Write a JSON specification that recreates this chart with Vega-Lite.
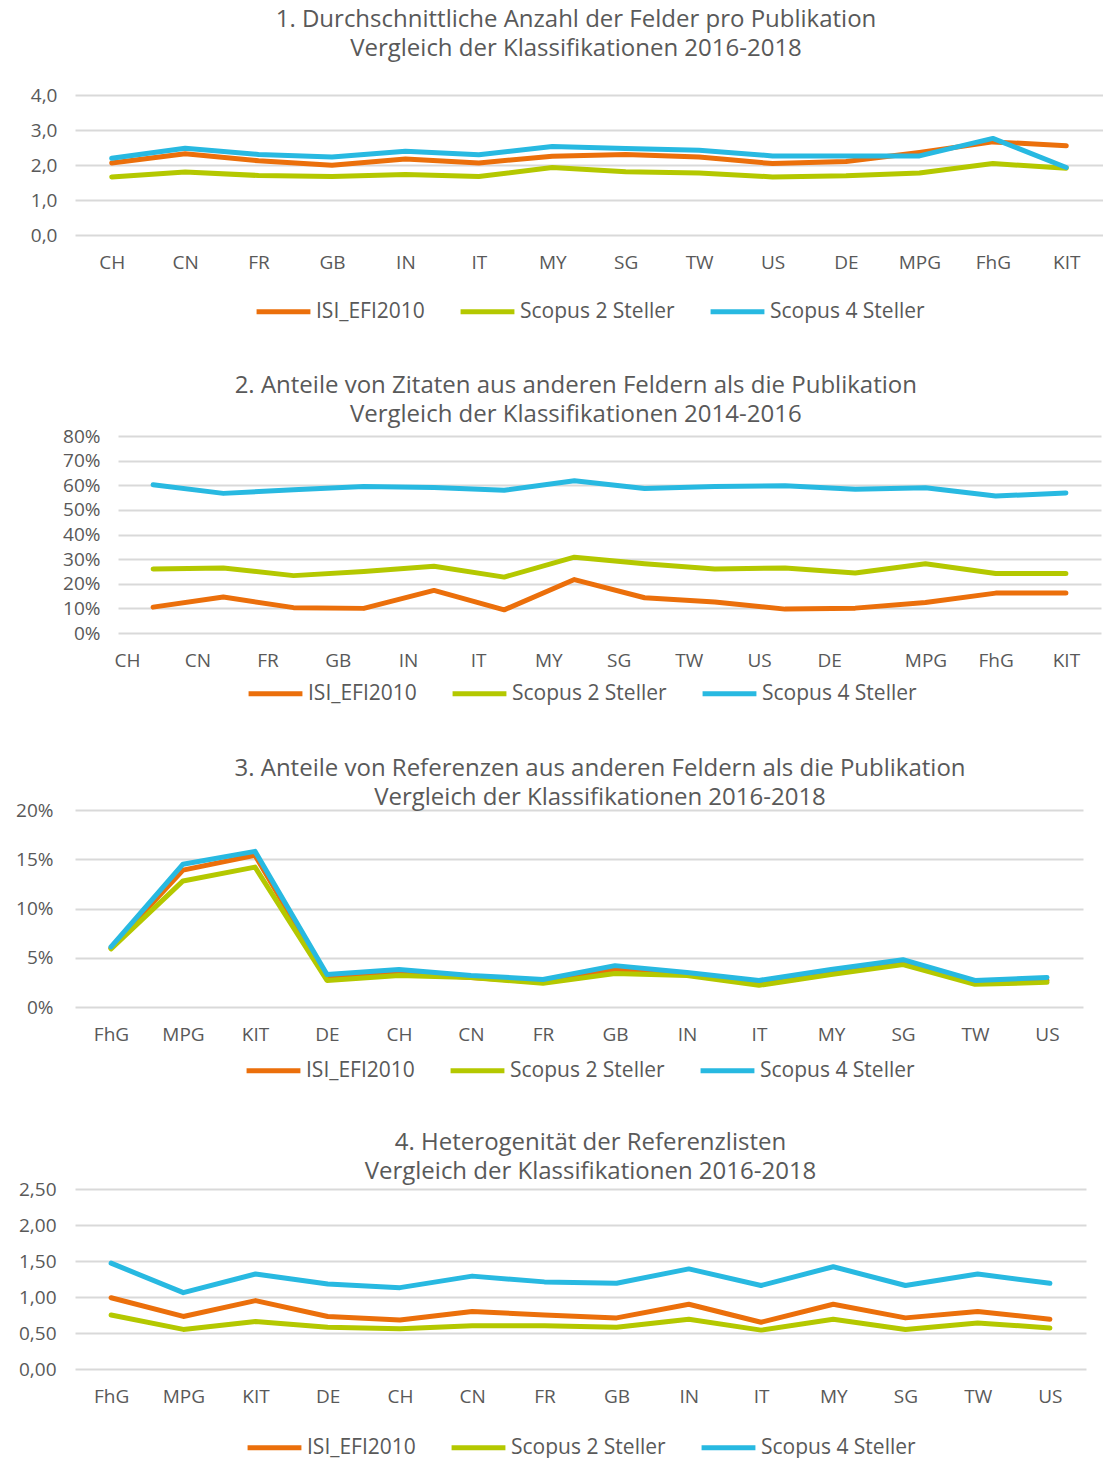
{
  "$schema": "https://vega.github.io/schema/vega-lite/v6.json",
  "padding": {"left": 0, "top": 8, "right": 0, "bottom": 0},
  "background": "white",
  "columns": 1,
  "spacing": 50,
  "config": {
    "font": "Open Sans",
    "view": {"stroke": null},
    "title": {"fontSize": 24, "fontWeight": "normal", "color": "#595959", "anchor": "middle", "lineHeight": 29, "font": "Open Sans"},
    "axis": {"labelColor": "#595959", "labelFontSize": 19, "labelFont": "Open Sans", "domain": false, "ticks": false, "title": null},
    "axisY": {"gridColor": "#D9D9D9", "gridWidth": 2, "minExtent": 75},
    "axisX": {"grid": false, "labelAngle": 0, "labelPadding": 18},
    "legend": {"orient": "bottom", "direction": "horizontal", "title": null, "labelFontSize": 21, "labelColor": "#595959", "labelFont": "Open Sans", "symbolType": "stroke", "symbolSize": 2900, "symbolStrokeWidth": 5, "columnPadding": 25, "labelOffset": 3, "layout": {"bottom": {"anchor": "middle"}}}
  },
  "datasets": {
    "p1": [
      {"land": "CH", "serie": "ISI_EFI2010", "wert": 2.06}, {"land": "CN", "serie": "ISI_EFI2010", "wert": 2.32}, {"land": "FR", "serie": "ISI_EFI2010", "wert": 2.12}, {"land": "GB", "serie": "ISI_EFI2010", "wert": 1.99}, {"land": "IN", "serie": "ISI_EFI2010", "wert": 2.17}, {"land": "IT", "serie": "ISI_EFI2010", "wert": 2.06}, {"land": "MY", "serie": "ISI_EFI2010", "wert": 2.25}, {"land": "SG", "serie": "ISI_EFI2010", "wert": 2.3}, {"land": "TW", "serie": "ISI_EFI2010", "wert": 2.23}, {"land": "US", "serie": "ISI_EFI2010", "wert": 2.04}, {"land": "DE", "serie": "ISI_EFI2010", "wert": 2.1}, {"land": "MPG", "serie": "ISI_EFI2010", "wert": 2.36}, {"land": "FhG", "serie": "ISI_EFI2010", "wert": 2.66}, {"land": "KIT", "serie": "ISI_EFI2010", "wert": 2.55},
      {"land": "CH", "serie": "Scopus 2 Steller", "wert": 1.66}, {"land": "CN", "serie": "Scopus 2 Steller", "wert": 1.8}, {"land": "FR", "serie": "Scopus 2 Steller", "wert": 1.7}, {"land": "GB", "serie": "Scopus 2 Steller", "wert": 1.67}, {"land": "IN", "serie": "Scopus 2 Steller", "wert": 1.73}, {"land": "IT", "serie": "Scopus 2 Steller", "wert": 1.67}, {"land": "MY", "serie": "Scopus 2 Steller", "wert": 1.93}, {"land": "SG", "serie": "Scopus 2 Steller", "wert": 1.81}, {"land": "TW", "serie": "Scopus 2 Steller", "wert": 1.77}, {"land": "US", "serie": "Scopus 2 Steller", "wert": 1.66}, {"land": "DE", "serie": "Scopus 2 Steller", "wert": 1.69}, {"land": "MPG", "serie": "Scopus 2 Steller", "wert": 1.77}, {"land": "FhG", "serie": "Scopus 2 Steller", "wert": 2.04}, {"land": "KIT", "serie": "Scopus 2 Steller", "wert": 1.91},
      {"land": "CH", "serie": "Scopus 4 Steller", "wert": 2.19}, {"land": "CN", "serie": "Scopus 4 Steller", "wert": 2.48}, {"land": "FR", "serie": "Scopus 4 Steller", "wert": 2.3}, {"land": "GB", "serie": "Scopus 4 Steller", "wert": 2.23}, {"land": "IN", "serie": "Scopus 4 Steller", "wert": 2.39}, {"land": "IT", "serie": "Scopus 4 Steller", "wert": 2.29}, {"land": "MY", "serie": "Scopus 4 Steller", "wert": 2.53}, {"land": "SG", "serie": "Scopus 4 Steller", "wert": 2.47}, {"land": "TW", "serie": "Scopus 4 Steller", "wert": 2.42}, {"land": "US", "serie": "Scopus 4 Steller", "wert": 2.26}, {"land": "DE", "serie": "Scopus 4 Steller", "wert": 2.26}, {"land": "MPG", "serie": "Scopus 4 Steller", "wert": 2.26}, {"land": "FhG", "serie": "Scopus 4 Steller", "wert": 2.76}, {"land": "KIT", "serie": "Scopus 4 Steller", "wert": 1.93}
    ],
    "p2": [
      {"land": "CH", "serie": "ISI_EFI2010", "wert": 0.105}, {"land": "CN", "serie": "ISI_EFI2010", "wert": 0.146}, {"land": "FR", "serie": "ISI_EFI2010", "wert": 0.103}, {"land": "GB", "serie": "ISI_EFI2010", "wert": 0.1}, {"land": "IN", "serie": "ISI_EFI2010", "wert": 0.173}, {"land": "IT", "serie": "ISI_EFI2010", "wert": 0.094}, {"land": "MY", "serie": "ISI_EFI2010", "wert": 0.217}, {"land": "SG", "serie": "ISI_EFI2010", "wert": 0.143}, {"land": "TW", "serie": "ISI_EFI2010", "wert": 0.126}, {"land": "US", "serie": "ISI_EFI2010", "wert": 0.097}, {"land": "DE", "serie": "ISI_EFI2010", "wert": 0.101}, {"land": "MPG", "serie": "ISI_EFI2010", "wert": 0.124}, {"land": "FhG", "serie": "ISI_EFI2010", "wert": 0.162}, {"land": "KIT", "serie": "ISI_EFI2010", "wert": 0.162},
      {"land": "CH", "serie": "Scopus 2 Steller", "wert": 0.26}, {"land": "CN", "serie": "Scopus 2 Steller", "wert": 0.264}, {"land": "FR", "serie": "Scopus 2 Steller", "wert": 0.233}, {"land": "GB", "serie": "Scopus 2 Steller", "wert": 0.25}, {"land": "IN", "serie": "Scopus 2 Steller", "wert": 0.271}, {"land": "IT", "serie": "Scopus 2 Steller", "wert": 0.227}, {"land": "MY", "serie": "Scopus 2 Steller", "wert": 0.308}, {"land": "SG", "serie": "Scopus 2 Steller", "wert": 0.281}, {"land": "TW", "serie": "Scopus 2 Steller", "wert": 0.26}, {"land": "US", "serie": "Scopus 2 Steller", "wert": 0.264}, {"land": "DE", "serie": "Scopus 2 Steller", "wert": 0.244}, {"land": "MPG", "serie": "Scopus 2 Steller", "wert": 0.281}, {"land": "FhG", "serie": "Scopus 2 Steller", "wert": 0.242}, {"land": "KIT", "serie": "Scopus 2 Steller", "wert": 0.242},
      {"land": "CH", "serie": "Scopus 4 Steller", "wert": 0.602}, {"land": "CN", "serie": "Scopus 4 Steller", "wert": 0.567}, {"land": "FR", "serie": "Scopus 4 Steller", "wert": 0.582}, {"land": "GB", "serie": "Scopus 4 Steller", "wert": 0.595}, {"land": "IN", "serie": "Scopus 4 Steller", "wert": 0.591}, {"land": "IT", "serie": "Scopus 4 Steller", "wert": 0.58}, {"land": "MY", "serie": "Scopus 4 Steller", "wert": 0.618}, {"land": "SG", "serie": "Scopus 4 Steller", "wert": 0.587}, {"land": "TW", "serie": "Scopus 4 Steller", "wert": 0.595}, {"land": "US", "serie": "Scopus 4 Steller", "wert": 0.598}, {"land": "DE", "serie": "Scopus 4 Steller", "wert": 0.584}, {"land": "MPG", "serie": "Scopus 4 Steller", "wert": 0.59}, {"land": "FhG", "serie": "Scopus 4 Steller", "wert": 0.556}, {"land": "KIT", "serie": "Scopus 4 Steller", "wert": 0.569}
    ],
    "p3": [
      {"land": "FhG", "serie": "ISI_EFI2010", "wert": 0.06}, {"land": "MPG", "serie": "ISI_EFI2010", "wert": 0.139}, {"land": "KIT", "serie": "ISI_EFI2010", "wert": 0.154}, {"land": "DE", "serie": "ISI_EFI2010", "wert": 0.03}, {"land": "CH", "serie": "ISI_EFI2010", "wert": 0.035}, {"land": "CN", "serie": "ISI_EFI2010", "wert": 0.03}, {"land": "FR", "serie": "ISI_EFI2010", "wert": 0.025}, {"land": "GB", "serie": "ISI_EFI2010", "wert": 0.038}, {"land": "IN", "serie": "ISI_EFI2010", "wert": 0.033}, {"land": "IT", "serie": "ISI_EFI2010", "wert": 0.024}, {"land": "MY", "serie": "ISI_EFI2010", "wert": 0.036}, {"land": "SG", "serie": "ISI_EFI2010", "wert": 0.046}, {"land": "TW", "serie": "ISI_EFI2010", "wert": 0.025}, {"land": "US", "serie": "ISI_EFI2010", "wert": 0.027},
      {"land": "FhG", "serie": "Scopus 2 Steller", "wert": 0.059}, {"land": "MPG", "serie": "Scopus 2 Steller", "wert": 0.128}, {"land": "KIT", "serie": "Scopus 2 Steller", "wert": 0.142}, {"land": "DE", "serie": "Scopus 2 Steller", "wert": 0.027}, {"land": "CH", "serie": "Scopus 2 Steller", "wert": 0.032}, {"land": "CN", "serie": "Scopus 2 Steller", "wert": 0.03}, {"land": "FR", "serie": "Scopus 2 Steller", "wert": 0.024}, {"land": "GB", "serie": "Scopus 2 Steller", "wert": 0.034}, {"land": "IN", "serie": "Scopus 2 Steller", "wert": 0.032}, {"land": "IT", "serie": "Scopus 2 Steller", "wert": 0.022}, {"land": "MY", "serie": "Scopus 2 Steller", "wert": 0.033}, {"land": "SG", "serie": "Scopus 2 Steller", "wert": 0.043}, {"land": "TW", "serie": "Scopus 2 Steller", "wert": 0.023}, {"land": "US", "serie": "Scopus 2 Steller", "wert": 0.025},
      {"land": "FhG", "serie": "Scopus 4 Steller", "wert": 0.061}, {"land": "MPG", "serie": "Scopus 4 Steller", "wert": 0.145}, {"land": "KIT", "serie": "Scopus 4 Steller", "wert": 0.158}, {"land": "DE", "serie": "Scopus 4 Steller", "wert": 0.033}, {"land": "CH", "serie": "Scopus 4 Steller", "wert": 0.038}, {"land": "CN", "serie": "Scopus 4 Steller", "wert": 0.032}, {"land": "FR", "serie": "Scopus 4 Steller", "wert": 0.028}, {"land": "GB", "serie": "Scopus 4 Steller", "wert": 0.042}, {"land": "IN", "serie": "Scopus 4 Steller", "wert": 0.035}, {"land": "IT", "serie": "Scopus 4 Steller", "wert": 0.027}, {"land": "MY", "serie": "Scopus 4 Steller", "wert": 0.038}, {"land": "SG", "serie": "Scopus 4 Steller", "wert": 0.048}, {"land": "TW", "serie": "Scopus 4 Steller", "wert": 0.027}, {"land": "US", "serie": "Scopus 4 Steller", "wert": 0.03}
    ],
    "p4": [
      {"land": "FhG", "serie": "ISI_EFI2010", "wert": 0.99}, {"land": "MPG", "serie": "ISI_EFI2010", "wert": 0.73}, {"land": "KIT", "serie": "ISI_EFI2010", "wert": 0.95}, {"land": "DE", "serie": "ISI_EFI2010", "wert": 0.73}, {"land": "CH", "serie": "ISI_EFI2010", "wert": 0.68}, {"land": "CN", "serie": "ISI_EFI2010", "wert": 0.8}, {"land": "FR", "serie": "ISI_EFI2010", "wert": 0.75}, {"land": "GB", "serie": "ISI_EFI2010", "wert": 0.71}, {"land": "IN", "serie": "ISI_EFI2010", "wert": 0.9}, {"land": "IT", "serie": "ISI_EFI2010", "wert": 0.65}, {"land": "MY", "serie": "ISI_EFI2010", "wert": 0.9}, {"land": "SG", "serie": "ISI_EFI2010", "wert": 0.71}, {"land": "TW", "serie": "ISI_EFI2010", "wert": 0.8}, {"land": "US", "serie": "ISI_EFI2010", "wert": 0.69},
      {"land": "FhG", "serie": "Scopus 2 Steller", "wert": 0.75}, {"land": "MPG", "serie": "Scopus 2 Steller", "wert": 0.55}, {"land": "KIT", "serie": "Scopus 2 Steller", "wert": 0.66}, {"land": "DE", "serie": "Scopus 2 Steller", "wert": 0.58}, {"land": "CH", "serie": "Scopus 2 Steller", "wert": 0.56}, {"land": "CN", "serie": "Scopus 2 Steller", "wert": 0.6}, {"land": "FR", "serie": "Scopus 2 Steller", "wert": 0.6}, {"land": "GB", "serie": "Scopus 2 Steller", "wert": 0.58}, {"land": "IN", "serie": "Scopus 2 Steller", "wert": 0.69}, {"land": "IT", "serie": "Scopus 2 Steller", "wert": 0.54}, {"land": "MY", "serie": "Scopus 2 Steller", "wert": 0.69}, {"land": "SG", "serie": "Scopus 2 Steller", "wert": 0.55}, {"land": "TW", "serie": "Scopus 2 Steller", "wert": 0.64}, {"land": "US", "serie": "Scopus 2 Steller", "wert": 0.57},
      {"land": "FhG", "serie": "Scopus 4 Steller", "wert": 1.47}, {"land": "MPG", "serie": "Scopus 4 Steller", "wert": 1.06}, {"land": "KIT", "serie": "Scopus 4 Steller", "wert": 1.32}, {"land": "DE", "serie": "Scopus 4 Steller", "wert": 1.18}, {"land": "CH", "serie": "Scopus 4 Steller", "wert": 1.13}, {"land": "CN", "serie": "Scopus 4 Steller", "wert": 1.29}, {"land": "FR", "serie": "Scopus 4 Steller", "wert": 1.21}, {"land": "GB", "serie": "Scopus 4 Steller", "wert": 1.19}, {"land": "IN", "serie": "Scopus 4 Steller", "wert": 1.39}, {"land": "IT", "serie": "Scopus 4 Steller", "wert": 1.16}, {"land": "MY", "serie": "Scopus 4 Steller", "wert": 1.42}, {"land": "SG", "serie": "Scopus 4 Steller", "wert": 1.16}, {"land": "TW", "serie": "Scopus 4 Steller", "wert": 1.32}, {"land": "US", "serie": "Scopus 4 Steller", "wert": 1.19}
    ]
  },
  "resolve": {"scale": {"color": "independent", "x": "independent", "y": "independent"}},
  "concat": [
    {
      "title": {"text": ["1. Durchschnittliche Anzahl der Felder pro Publikation", "Vergleich der Klassifikationen 2016-2018"], "offset": 25, "dx": -13},
      "width": 1028, "height": 140,
      "data": {"name": "p1"},
      "mark": {"type": "line", "strokeWidth": 5, "strokeCap": "round", "strokeJoin": "round"},
      "encoding": {
        "x": {"field": "land", "type": "nominal", "sort": ["CH","CN","FR","GB","IN","IT","MY","SG","TW","US","DE","MPG","FhG","KIT"], "scale": {"type": "point", "padding": 0.5}},
        "y": {"field": "wert", "type": "quantitative", "scale": {"domain": [0, 4], "nice": false}, "axis": {"values": [0,1,2,3,4], "labelExpr": "replace(format(datum.value, '.1f'), '.', ',')", "labelPadding": 18}},
        "color": {"field": "serie", "type": "nominal", "scale": {"domain": ["ISI_EFI2010", "Scopus 2 Steller", "Scopus 4 Steller"], "range": ["#EB6F0B", "#B4C800", "#28B9E1"]}, "legend": {"offset": 8, "padding": 2}}
      }
    },
    {
      "title": {"text": ["2. Anteile von Zitaten aus anderen Feldern als die Publikation", "Vergleich der Klassifikationen 2014-2016"], "offset": 0, "dx": -6},
      "bounds": "flush",
      "spacing": 20,
      "hconcat": [
        {
          "width": 23, "height": 1,
          "data": {"values": [{}]},
          "mark": {"type": "point", "opacity": 0}
        },
        {
          "width": 983, "height": 197,
          "data": {"name": "p2"},
          "mark": {"type": "line", "strokeWidth": 5, "strokeCap": "round", "strokeJoin": "round"},
          "encoding": {
            "x": {"field": "land", "type": "nominal", "sort": ["CH","CN","FR","GB","IN","IT","MY","SG","TW","US","DE","MPG","FhG","KIT"], "scale": {"type": "point", "padding": 0.5}, "axis": {"labelOffset": {"condition": {"test": "indexof(['MPG','FhG','KIT'], datum.value) >= 0", "value": 0}, "value": -26}}},
            "y": {"field": "wert", "type": "quantitative", "scale": {"domain": [0, 0.8], "nice": false}, "axis": {"values": [0,0.1,0.2,0.3,0.4,0.5,0.6,0.7,0.8], "format": ".0%", "labelPadding": 18, "minExtent": 0}},
            "color": {"field": "serie", "type": "nominal", "scale": {"domain": ["ISI_EFI2010", "Scopus 2 Steller", "Scopus 4 Steller"], "range": ["#EB6F0B", "#B4C800", "#28B9E1"]}, "legend": {"offset": -9, "padding": 3}}
          }
        }
      ]
    },
    {
      "title": {"text": ["3. Anteile von Referenzen aus anderen Feldern als die Publikation", "Vergleich der Klassifikationen 2016-2018"], "offset": -9, "dx": 21},
      "width": 1008, "height": 197,
      "data": {"name": "p3"},
      "mark": {"type": "line", "strokeWidth": 5, "strokeCap": "round", "strokeJoin": "round"},
      "encoding": {
        "x": {"field": "land", "type": "nominal", "sort": ["FhG","MPG","KIT","DE","CH","CN","FR","GB","IN","IT","MY","SG","TW","US"], "scale": {"type": "point", "padding": 0.5}},
        "y": {"field": "wert", "type": "quantitative", "scale": {"domain": [0, 0.2], "nice": false}, "axis": {"values": [0,0.05,0.1,0.15,0.2], "format": ".0%", "labelPadding": 22}},
        "color": {"field": "serie", "type": "nominal", "scale": {"domain": ["ISI_EFI2010", "Scopus 2 Steller", "Scopus 4 Steller"], "range": ["#EB6F0B", "#B4C800", "#28B9E1"]}, "legend": {"offset": -3}}
      }
    },
    {
      "title": {"text": ["4. Heterogenität der Referenzlisten", "Vergleich der Klassifikationen 2016-2018"], "offset": -4, "dx": 10},
      "width": 1011, "height": 180,
      "data": {"name": "p4"},
      "mark": {"type": "line", "strokeWidth": 5, "strokeCap": "round", "strokeJoin": "round"},
      "encoding": {
        "x": {"field": "land", "type": "nominal", "sort": ["FhG","MPG","KIT","DE","CH","CN","FR","GB","IN","IT","MY","SG","TW","US"], "scale": {"type": "point", "padding": 0.5}},
        "y": {"field": "wert", "type": "quantitative", "scale": {"domain": [0, 2.5], "nice": false}, "axis": {"values": [0,0.5,1,1.5,2,2.5], "labelExpr": "replace(format(datum.value, '.2f'), '.', ',')", "labelPadding": 19}},
        "color": {"field": "serie", "type": "nominal", "scale": {"domain": ["ISI_EFI2010", "Scopus 2 Steller", "Scopus 4 Steller"], "range": ["#EB6F0B", "#B4C800", "#28B9E1"]}, "legend": {"offset": 12}}
      }
    }
  ]
}
